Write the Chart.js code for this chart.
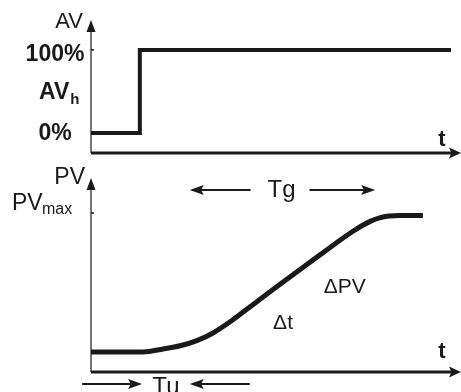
<!DOCTYPE html>
<html>
<head>
<meta charset="utf-8">
<script src="https://cdn.jsdelivr.net/npm/chart.js@4.4.0/dist/chart.umd.min.js"></script>
<style>
html, body { margin: 0; padding: 0; background: #fff; }
#wrap { position: relative; width: 461px; height: 392px; }
#wrap canvas { position: absolute; left: 0; top: 0; }
</style>
</head>
<body>
<div id="wrap">
  <canvas id="av-canvas" width="461" height="392"></canvas>
  <canvas id="pv-canvas" width="461" height="392"></canvas>
</div>
<script>
// step of the manipulated value (AV, %)
const avTime = [0, 13.2, 13.2, 97.3];
const avLevel = [0, 0, 100, 100];
const avTickValues = [100, 0];
const avLabelLevels = [94, 49, -1];
const avTickLabels = ['100%', 'AV', '0%'];
const avTickSubs = ['', 'h', ''];

// response of the process value (PV, % of PVmax)
const pvTime = [0, 14.1, 19.5, 24.1, 28.6, 33.0, 37.6, 42.2, 46.5, 51.0, 55.7, 61.9, 67.3, 70.5, 73.2, 75.6, 78.0, 80.5, 83.5, 89.7];
const pvLevel = [0, 0, 2.2, 4.6, 8.4, 14.0, 22.2, 31.6, 40.4, 49.6, 59.0, 71.4, 82.2, 88.2, 92.8, 96.2, 98.6, 99.9, 100.4, 100.4];

// time marks for Tu and Tg
const tuBounds = [13.8, 26.7];
const tgBounds = [26.7, 76.8];

const ink = '#1a1a1a';
const fontName = '"Liberation Sans", Arial, sans-serif';

function arrowHead(ctx, x, y, dir, len, half) {
    ctx.beginPath();
    if (dir === 'up') {
        ctx.moveTo(x, y);
        ctx.lineTo(x - half, y + len);
        ctx.lineTo(x + half, y + len);
    } else if (dir === 'right') {
        ctx.moveTo(x, y);
        ctx.lineTo(x - len, y - half);
        ctx.lineTo(x - len * 0.8, y);
        ctx.lineTo(x - len, y + half);
    } else {
        ctx.moveTo(x, y);
        ctx.lineTo(x + len, y - half);
        ctx.lineTo(x + len * 0.8, y);
        ctx.lineTo(x + len, y + half);
    }
    ctx.closePath();
    ctx.fill();
}

function drawAxes(chart, tLift) {
    const ctx = chart.ctx;
    const area = chart.chartArea;
    const x0 = chart.scales.x.getPixelForValue(0);
    ctx.save();
    ctx.strokeStyle = ink;
    ctx.fillStyle = ink;
    ctx.lineWidth = 1.2;
    ctx.beginPath();
    ctx.moveTo(x0, area.bottom);
    ctx.lineTo(x0, area.top + 8);
    ctx.stroke();
    arrowHead(ctx, x0, area.top, 'up', 12, 4.5);
    ctx.lineWidth = 3;
    ctx.beginPath();
    ctx.moveTo(x0, area.bottom);
    ctx.lineTo(area.right - 8, area.bottom);
    ctx.stroke();
    arrowHead(ctx, area.right, area.bottom, 'right', 12, 5.5);
    ctx.font = 'bold 22px ' + fontName;
    ctx.textAlign = 'center';
    ctx.textBaseline = 'alphabetic';
    ctx.fillText('t', area.right - 19, area.bottom - tLift);
    ctx.restore();
}

function tickMark(ctx, x, y) {
    ctx.lineWidth = 1.5;
    ctx.beginPath();
    ctx.moveTo(x, y);
    ctx.lineTo(x + 3, y);
    ctx.stroke();
}

const avPlugin = {
    id: 'avDecor',
    afterDatasetsDraw(chart) {
        drawAxes(chart, 7);
        const ctx = chart.ctx;
        const x0 = chart.scales.x.getPixelForValue(0);
        const yScale = chart.scales.y;
        ctx.save();
        ctx.fillStyle = ink;
        ctx.strokeStyle = ink;
        ctx.textBaseline = 'middle';
        ctx.font = '22px ' + fontName;
        ctx.textAlign = 'right';
        ctx.fillText('AV', x0 - 8, chart.chartArea.top + 2);
        avTickValues.forEach(v => tickMark(ctx, x0, yScale.getPixelForValue(v)));
        for (let i = 0; i < avTickLabels.length; i++) {
            const y = yScale.getPixelForValue(avLabelLevels[i]);
            ctx.font = 'bold 23px ' + fontName;
            if (avTickSubs[i]) {
                ctx.textAlign = 'left';
                const w = ctx.measureText(avTickLabels[i]).width;
                ctx.fillText(avTickLabels[i], x0 - 52, y);
                ctx.font = 'bold 15px ' + fontName;
                ctx.fillText(avTickSubs[i], x0 - 51 + w, y + 8);
            } else {
                ctx.textAlign = 'center';
                ctx.fillText(avTickLabels[i], x0 - 36, y);
            }
        }
        ctx.restore();
    }
};

function hArrow(ctx, from, to, y) {
    const dir = to > from ? 'right' : 'left';
    const back = dir === 'right' ? -10 : 10;
    ctx.lineWidth = 2;
    ctx.beginPath();
    ctx.moveTo(from, y);
    ctx.lineTo(to + back, y);
    ctx.stroke();
    arrowHead(ctx, to, y, dir, 14, 5);
}

const pvPlugin = {
    id: 'pvDecor',
    afterDatasetsDraw(chart) {
        drawAxes(chart, 14);
        const ctx = chart.ctx;
        const xs = chart.scales.x;
        const ys = chart.scales.y;
        const x0 = xs.getPixelForValue(0);
        ctx.save();
        ctx.fillStyle = ink;
        ctx.strokeStyle = ink;
        ctx.textBaseline = 'middle';
        ctx.font = '23px ' + fontName;
        ctx.textAlign = 'right';
        ctx.fillText('PV', x0 - 6, chart.chartArea.top);
        // PVmax label and tick
        const yMax = ys.getPixelForValue(100);
        ctx.textAlign = 'left';
        ctx.textBaseline = 'alphabetic';
        ctx.fillText('PV', x0 - 79, yMax - 6);
        ctx.font = '16px ' + fontName;
        ctx.fillText('max', x0 - 49, yMax - 2);
        tickMark(ctx, x0, yMax - 3);
        // inner labels
        ctx.textAlign = 'center';
        ctx.textBaseline = 'middle';
        ctx.font = '21px ' + fontName;
        ctx.fillText('\u0394PV', xs.getPixelForValue(68.6), ys.getPixelForValue(47.8));
        ctx.fillText('\u0394t', xs.getPixelForValue(51.9), ys.getPixelForValue(21.3));
        // Tg
        const tgY = ys.getPixelForValue(119);
        const tgL = xs.getPixelForValue(tgBounds[0]);
        const tgR = xs.getPixelForValue(tgBounds[1]);
        const tgMid = xs.getPixelForValue(51.5);
        ctx.font = '24px ' + fontName;
        ctx.fillText('Tg', tgMid, tgY);
        hArrow(ctx, tgMid - 31, tgL, tgY);
        hArrow(ctx, tgMid + 28, tgR, tgY);
        // Tu
        const tuY = ys.getPixelForValue(-23.5);
        const tuL = xs.getPixelForValue(tuBounds[0]);
        const tuR = xs.getPixelForValue(tuBounds[1]);
        const tuMid = (tuL + tuR) / 2;
        ctx.fillText('Tu', tuMid, tuY + 3);
        hArrow(ctx, tuL - 60, tuL, tuY);
        hArrow(ctx, tuR + 60, tuR, tuY);
        ctx.restore();
    }
};

function makeChart(id, times, levels, yMin, yMax, padding, width, smooth, plugin) {
    const points = times.map((t, i) => ({ x: t, y: levels[i] }));
    return new Chart(document.getElementById(id), {
        type: 'line',
        data: {
            datasets: [{
                data: points,
                borderColor: ink,
                borderWidth: width,
                pointRadius: 0,
                fill: false,
                tension: 0,
                cubicInterpolationMode: smooth ? 'monotone' : 'default',
                borderCapStyle: 'butt',
                borderJoinStyle: smooth ? 'round' : 'miter',
                clip: 10
            }]
        },
        options: {
            responsive: false,
            animation: false,
            devicePixelRatio: 1,
            layout: { padding: padding },
            plugins: { legend: { display: false }, tooltip: { enabled: false } },
            scales: {
                x: { type: 'linear', min: 0, max: 100, display: false },
                y: { type: 'linear', min: yMin, max: yMax, display: false }
            }
        },
        plugins: [plugin]
    });
}

makeChart('av-canvas', avTime, avLevel, -24, 136,
    { left: 91, right: 0, top: 20, bottom: 239 }, 4, false, avPlugin);
makeChart('pv-canvas', pvTime, pvLevel, -14.7, 127.9,
    { left: 91, right: 0, top: 178, bottom: 20 }, 5, true, pvPlugin);
</script>
</body>
</html>
